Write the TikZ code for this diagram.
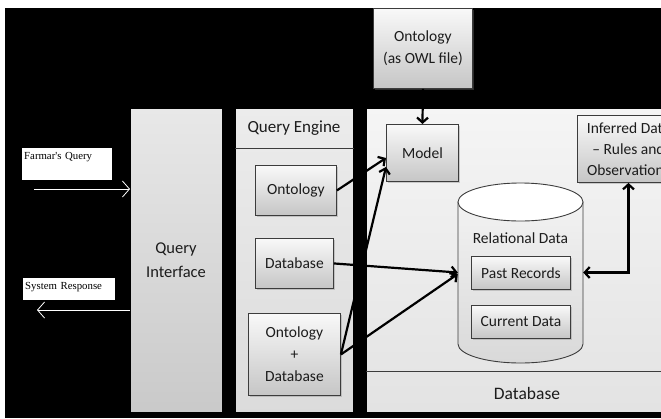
\documentclass[tikz,border=0pt]{standalone}
\usepackage{fontspec}
\setmainfont{Carlito}
\newfontfamily\timesf{Liberation Serif}
\usetikzlibrary{arrows.meta,shadows}
\definecolor{txt}{HTML}{1c1c1c}
\definecolor{edge}{HTML}{3c3c3c}
\begin{document}
\begin{tikzpicture}[x=1pt,y=-1pt,
  panel/.style={draw=black, line width=0.5pt, anchor=north west, inner sep=0pt},
  sbox/.style={draw=edge, line width=0.9pt, top color=gray!5, bottom color=gray!45,
    anchor=north west, inner sep=0pt, align=center, font=\fontsize{15.5}{22}\selectfont, text=txt,
    drop shadow={shadow xshift=1.5pt, shadow yshift=-1.5pt, opacity=0.35}},
  lbl/.style={fill=white, anchor=north west, inner sep=2pt, font=\timesf\fontsize{10.8}{12}\selectfont,
    text=black, align=left},
  warrow/.style={white, line width=0.8pt, -{Straight Barb[length=7pt,width=16pt]}},
  barrow/.style={black, line width=2.2pt, -{Straight Barb[length=5pt,width=11pt]}},
  dbarrow/.style={black, line width=2.2pt, {Straight Barb[length=5pt,width=11pt]}-{Straight Barb[length=5pt,width=11pt]}},
]
\useasboundingbox (0,0) rectangle (661,418);
\clip (0,0) rectangle (661,418);
\fill[white] (0,0) rectangle (661,418);
\fill[black] (5,8) rectangle (661,418);

% panels
\node[panel, top color=gray!18, bottom color=gray!42, minimum width=92, minimum height=304] (qi) at (130,108) {};
\node[font=\fontsize{16.5}{24}\selectfont, text=txt, align=center] (qitext) at (176,260) {Query\\Interface};

\node[panel, top color=gray!15, bottom color=gray!28, minimum width=118, minimum height=304] (qe) at (235,108) {};
\draw[edge, line width=0.6pt] ([yshift=-40pt]qe.north west) -- ([yshift=-40pt]qe.north east);
\node[font=\fontsize{17}{20}\selectfont, text=txt] (qetext) at (294,128) {Query Engine};

\node[panel, top color=gray!8, bottom color=gray!22, minimum width=320, minimum height=304] (db) at (366,108) {};
\draw[edge, line width=0.6pt] ([yshift=41pt]db.south west) -- ([yshift=41pt]db.south east);
\node[font=\fontsize{17.5}{20}\selectfont, text=txt] (dbtext) at (527,393) {Database};

% engine boxes
\node[sbox, minimum width=81, minimum height=50] (ont) at (255,165) {Ontology};
\node[sbox, minimum width=78, minimum height=50] (dbq) at (255,238) {Database};
\node[sbox, minimum width=92, minimum height=82] (odb) at (248,313) {Ontology\\+\\Database};

% ontology file, model, inferred
\node[sbox, minimum width=99, minimum height=80] (owl) at (373,8) {Ontology\\(as OWL file)};
\node[sbox, minimum width=72, minimum height=57] (model) at (386,124) {Model};
\node[sbox, minimum width=102, minimum height=67, font=\fontsize{15.5}{21}\selectfont] (inf) at (577,115) {Inferred Data\\-- Rules and\\Observations};

% cylinder
\path[draw=edge, line width=0.9pt, top color=gray!10, bottom color=gray!30]
  (458,202) -- (458,344) arc[start angle=180, end angle=360, x radius=62.5pt, y radius=19pt] -- (583,202) -- cycle;
\draw[edge, line width=0.9pt, fill=white] (520.5,202) ellipse [x radius=62.5pt, y radius=19pt];
\node[minimum width=125, minimum height=181, inner sep=0pt] (cyl) at (520.5,272.5) {};
\node[font=\fontsize{15.5}{20}\selectfont, text=txt] (reltext) at (520.5,238) {Relational Data};
\node[sbox, minimum width=99, minimum height=33] (past) at (471,256) {Past Records};
\node[sbox, minimum width=99, minimum height=33] (cur) at (471,305) {Current Data};

% connectors
\draw[barrow] (ont.east) -- ([yshift=-5pt]model.west);
\draw[barrow] (odb.east) -- ([yshift=-14pt]model.west);
\draw[barrow] (dbq.east) -- (cyl.west);
\draw[barrow] (odb.east) -- ([yshift=-1.5pt]cyl.west);
\draw[barrow] (owl.south) -- (model.north);
\draw[dbarrow] (inf.south) |- (cyl.east);

% left labels and arrows
\node[lbl, text width=86pt, text height=9pt, text depth=19pt] (fq) at (22,148) {Farmar's Query};
\node[lbl, text width=88pt, text height=9pt, text depth=9pt] (sr) at (23,278) {System Response};
\coordinate (fqs) at (34,189);
\coordinate (sre) at (37,310);
\draw[warrow] (fqs) -- (fqs -| qi.west);
\draw[warrow] (sre -| qi.west) -- (sre);
\end{tikzpicture}
\end{document}
